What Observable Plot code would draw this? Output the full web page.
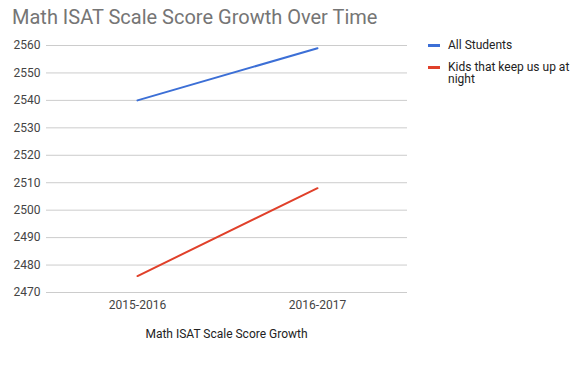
<!DOCTYPE html>
<html>
<head>
<meta charset="utf-8">
<script src="https://cdn.jsdelivr.net/npm/d3@7"></script>
<script src="https://cdn.jsdelivr.net/npm/@observablehq/plot@0.6"></script>
<style>
  html, body { margin: 0; padding: 0; background: #fff; }
  #wrap { position: relative; width: 585px; height: 366px; font-family: Roboto, sans-serif; }
  #title { position: absolute; left: 12px; top: 5px; font-size: 20px; color: #757575; white-space: nowrap; }
  #legend { position: absolute; left: 428px; top: 39px; font-size: 12px; color: #222; width: 150px; }
  .item { display: flex; align-items: flex-start; margin-bottom: 9px; line-height: 12.5px; }
  .sw { width: 12px; height: 3px; margin-top: 5px; margin-right: 8px; flex: none; }
  #xtitle { position: absolute; left: 46px; width: 361px; top: 327px; text-align: center; font-size: 12px; color: #222; }
</style>
</head>
<body>
<div id="wrap">
  <div id="title">Math ISAT Scale Score Growth Over Time</div>
  <div id="legend"></div>
  <div id="xtitle"></div>
</div>
<script>
const categories = ["2015-2016", "2016-2017"];
const seriesNames = ["All Students", "Kids that keep us up at night"];
const allStudents = [2540, 2559];
const kidsUpAtNight = [2476, 2508];
const yTicks = [2470, 2480, 2490, 2500, 2510, 2520, 2530, 2540, 2550, 2560];
const colors = ["#3c6fd6", "#e0402a"];
const xTitle = "Math ISAT Scale Score Growth";

const data = [];
categories.forEach((c, i) => {
  data.push({period: c, series: seriesNames[0], score: allStudents[i]});
  data.push({period: c, series: seriesNames[1], score: kidsUpAtNight[i]});
});

const chart = Plot.plot({
  width: 585,
  height: 366,
  marginLeft: 46,
  marginRight: 178,
  marginTop: 45,
  marginBottom: 74,
  style: { fontFamily: "Roboto, sans-serif", fontSize: "12px", color: "#444", background: "transparent" },
  x: { type: "point", domain: categories, padding: 0.5, label: null },
  y: { domain: [2470, 2560], ticks: yTicks, label: null },
  color: { domain: seriesNames, range: colors },
  marks: [
    Plot.ruleY(yTicks, { stroke: "#cccccc", strokeWidth: 1, strokeOpacity: 1 }),
    Plot.axisY({ ticks: yTicks, tickSize: 0, tickPadding: 6, tickFormat: d => String(d), label: null, fill: "#444" }),
    Plot.axisX({ tickSize: 0, tickPadding: 8, fill: "#444", label: null }),
    Plot.line(data, { x: "period", y: "score", z: "series", stroke: "series", strokeWidth: 2 })
  ]
});
chart.style.position = "absolute";
chart.style.left = "0";
chart.style.top = "0";
const wrap = document.getElementById("wrap");
wrap.insertBefore(chart, wrap.firstChild);
document.getElementById("xtitle").textContent = xTitle;

const legend = document.getElementById("legend");
seriesNames.forEach((name, i) => {
  const item = document.createElement("div");
  item.className = "item";
  const sw = document.createElement("div");
  sw.className = "sw";
  sw.style.background = colors[i];
  const t = document.createElement("div");
  t.textContent = name;
  item.appendChild(sw);
  item.appendChild(t);
  legend.appendChild(item);
});
</script>
</body>
</html>
